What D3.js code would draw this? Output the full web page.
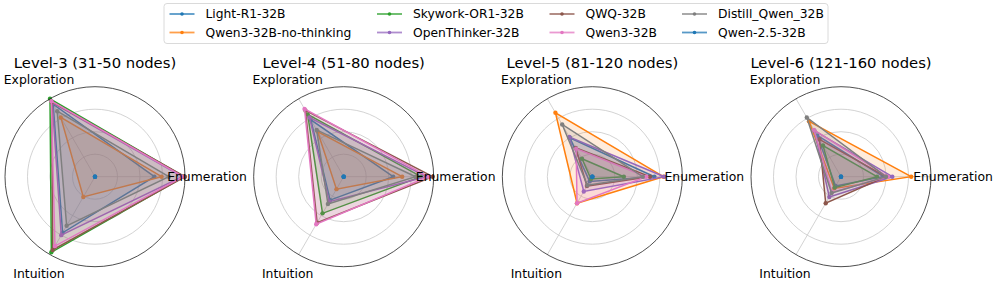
<!DOCTYPE html>
<html lang='en'>
<head>
    <title>Radar by level</title>
    <meta charset='UTF-8'>
    <script src='https://d3js.org/d3.v7.min.js'></script>
    <style>
      body { margin: 0; background: #fff; }
      svg { font-family: 'DejaVu Sans', sans-serif; }
    </style>
</head>
<body>
<svg width='997' height='283'></svg>
<script>
  // data (scores on a 0-1 radial scale)
  const models = ['Light-R1-32B', 'Qwen3-32B-no-thinking', 'Skywork-OR1-32B', 'OpenThinker-32B',
                  'QWQ-32B', 'Qwen3-32B', 'Distill_Qwen_32B', 'Qwen-2.5-32B']
  const colors = ['#1f77b4', '#ff7f0e', '#2ca02c', '#9467bd', '#8c564b', '#e377c2', '#7f7f7f', '#1f77b4']
  const axesNames = ['Enumeration', 'Exploration', 'Intuition']
  const levels = ['Level-3 (31-50 nodes)', 'Level-4 (51-80 nodes)', 'Level-5 (81-120 nodes)', 'Level-6 (121-160 nodes)']
  const ringTicks = [0.25, 0.5, 0.75, 1]

  // one row per model: [Enumeration, Exploration, Intuition]
  const level3 = [[0.66, 0.93, 0.72], [0.74, 0.76, 0.26], [0.99, 1.00, 0.97], [0.97, 0.95, 0.75],
                  [1.00, 0.96, 0.94], [0.98, 0.97, 0.89], [0.82, 0.84, 0.63], [0, 0, 0]]
  const level4 = [[0.55, 0.73, 0.30], [0.65, 0.58, 0.16], [0.86, 0.80, 0.47], [0.92, 0.76, 0.32],
                  [0.99, 0.85, 0.59], [0.94, 0.87, 0.61], [0.80, 0.60, 0.35], [0, 0, 0]]
  const level5 = [[0.69, 0.50, 0.06], [0.79, 0.82, 0.34], [0.35, 0.23, 0.03], [0.80, 0.51, 0.19],
                  [0.64, 0.37, 0.12], [0.60, 0.36, 0.34], [0.56, 0.67, 0.11], [0, 0, 0]]
  const level6 = [[0.47, 0.53, 0.12], [0.78, 0.71, 0.15], [0.40, 0.40, 0.14], [0.57, 0.59, 0.26],
                  [0.50, 0.48, 0.34], [0.52, 0.60, 0.20], [0.50, 0.76, 0.21], [0, 0, 0]]
  const allLevels = [level3, level4, level5, level6]

  const svg = d3.select('svg')
  const R = 90
  const rScale = d3.scaleLinear().domain([0, 1]).range([0, R])
  // matplotlib theta (ccw from east) -> d3 radial angle (cw from north)
  const angle = d3.scalePoint().domain(axesNames).range([0, 240]).padding(0)
  const toRad = name => Math.PI / 2 - angle(name) * Math.PI / 180
  const xScale = d3.scaleLinear().domain([0, 3]).range([95, 841])

  const radial = d3.lineRadial()
    .angle((d, i) => toRad(axesNames[i]))
    .radius(d => rScale(d))
    .curve(d3.curveLinearClosed)

  allLevels.forEach((rows, li) => {
    const g = svg.append('g')
      .attr('transform', `translate(${xScale(li)},176.7)`)

    // grid rings and spokes
    g.selectAll('circle.ring').data(ringTicks.slice(0, -1)).enter()
      .append('circle')
        .attr('r', d => rScale(d))
        .attr('fill', 'none')
        .attr('stroke', '#c8c8c8')
        .attr('stroke-width', 0.8)
    g.selectAll('line.spoke').data(axesNames).enter()
      .append('line')
        .attr('x2', d => rScale(1) * Math.sin(toRad(d)))
        .attr('y2', d => -rScale(1) * Math.cos(toRad(d)))
        .attr('stroke', '#c8c8c8')
        .attr('stroke-width', 0.8)

    rows.forEach((vals, si) => {
      g.append('path')
        .attr('d', radial(vals))
        .attr('fill', colors[si])
        .attr('fill-opacity', 0.15)
        .attr('stroke', colors[si])
        .attr('stroke-width', 1.5)
      g.selectAll(null).data(vals).enter()
        .append('circle')
          .attr('cx', (d, i) => rScale(d) * Math.sin(toRad(axesNames[i])))
          .attr('cy', (d, i) => -rScale(d) * Math.cos(toRad(axesNames[i])))
          .attr('r', 2.2)
          .attr('fill', colors[si])
    })

    // outer spine
    g.append('circle')
      .attr('r', rScale(1))
      .attr('fill', 'none')
      .attr('stroke', '#222')
      .attr('stroke-width', 0.8)

    g.selectAll('text.lab').data(axesNames).enter()
      .append('text')
        .attr('x', d => 112 * Math.sin(toRad(d)))
        .attr('y', d => -112 * Math.cos(toRad(d)))
        .attr('text-anchor', 'middle')
        .attr('dominant-baseline', 'central')
        .style('font-size', '12.4px')
        .text(d => d)

    g.append('text')
      .attr('y', -108.5)
      .attr('text-anchor', 'middle')
      .style('font-size', '14.8px')
      .text(levels[li])
  })

  // legend: 4 columns, filled column by column
  const legend = svg.append('g')
  legend.append('rect')
    .attr('x', 164).attr('y', 3.5).attr('width', 664).attr('height', 40)
    .attr('rx', 3)
    .attr('fill', '#fff')
    .attr('stroke', '#d0d0d0')
    .attr('stroke-width', 0.8)
  const colX = [169.5, 377, 549.5, 682]
  const rowY = [14, 32.5]
  models.forEach((m, i) => {
    const x = colX[Math.floor(i / 2)], y = rowY[i % 2]
    const item = legend.append('g').attr('transform', `translate(${x},${y})`)
    item.append('line')
      .attr('x2', 25)
      .attr('stroke', colors[i])
      .attr('stroke-opacity', 0.75)
      .attr('stroke-width', 1.8)
    item.append('circle')
      .attr('cx', 12.5).attr('r', 1.8)
      .attr('fill', colors[i])
    item.append('text')
      .attr('x', 36)
      .attr('dominant-baseline', 'central')
      .style('font-size', '12.3px')
      .text(m)
  })
</script>
</body>
</html>
